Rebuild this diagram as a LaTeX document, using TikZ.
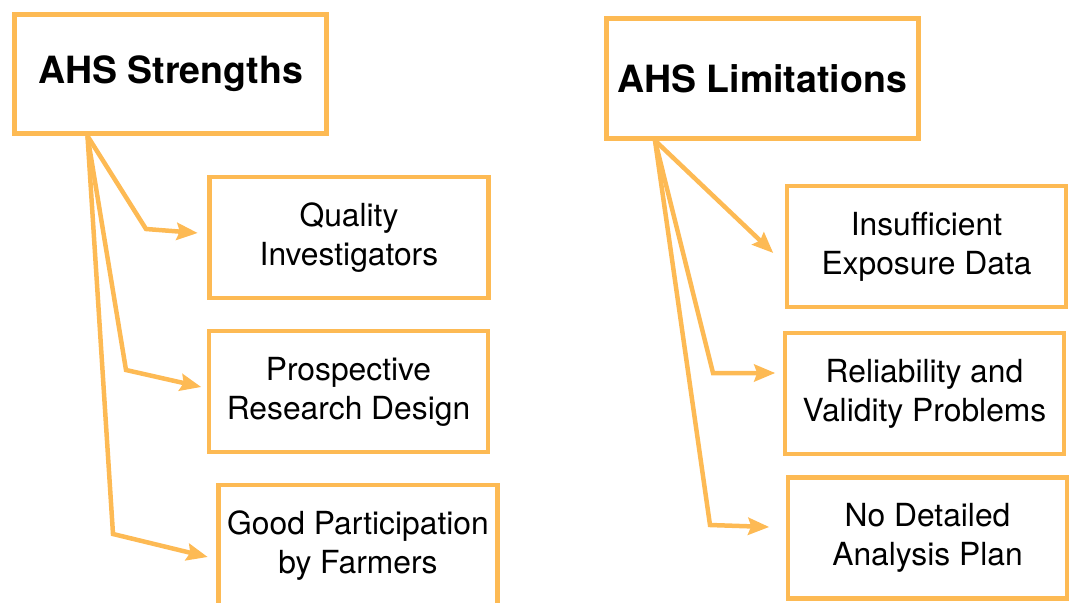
\documentclass[tikz,border=0pt]{standalone}
\usepackage{fontspec}
\setmainfont{TeX Gyre Heros}
\usetikzlibrary{positioning, arrows.meta}
\definecolor{ahsorange}{RGB}{253,186,84}
\tikzset{
>={Stealth[length=21pt, width=17pt, inset=3pt]}, % big arrow heads as on the slide
title/.style={draw=ahsorange, line width=5pt, fill=white, minimum width=312pt, minimum height=119pt, font=\fontsize{37.5}{44}\selectfont\bfseries}, % the two headings
item/.style={draw=ahsorange, line width=4.5pt, fill=white, minimum width=279pt, minimum height=121pt, align=center, font=\fontsize{31.8}{39}\selectfont}, % the points below
link/.style={->, draw=ahsorange, line width=4.5pt, line join=miter},
}

\begin{document}
\begin{tikzpicture}[x=1pt, y=-1pt]
        \clip (0,0) rectangle (1070,602);
        \useasboundingbox (0,0) rectangle (1070,602);

        % Strengths
        \node[title] (Strengths) at (170.5,74) {AHS Strengths};
        \node[item] (Quality) at (349,237.5) {Quality\\Investigators};
        \node[item] (Prospective) at (348.5,391.5) {Prospective\\Research Design};
        \node[item] (Participation) at (358,545.5) {Good Participation\\by Farmers};

        \coordinate (sroot) at ([xshift=75.5pt]Strengths.south west);
        \draw[link] (sroot) -- (146,229) -- ([xshift=-9.5pt, yshift=4.5pt]Quality.west);
        \draw[link] (sroot) -- (126,370) -- ([xshift=-5.5pt, yshift=4.5pt]Prospective.west);
        \draw[link] (sroot) -- (113,534) -- ([xshift=-8.5pt, yshift=-11.5pt]Participation.west);

        % Limitations
        \node[title] (Limitations) at (762,78.5) {AHS Limitations};
        \node[item] (Exposure) at (926.5,246.5) {Insufficient\\Exposure Data};
        \node[item] (Reliability) at (924.5,393.5) {Reliability and\\Validity Problems};
        \node[item] (Plan) at (927.5,538) {No Detailed\\Analysis Plan};

        \coordinate (lroot) at ([xshift=51.5pt]Limitations.south west);
        \draw[link] (lroot) -- ([xshift=-11.5pt, yshift=-6.5pt]Exposure.west);
        \draw[link] (lroot) -- (713,373) -- ([xshift=-7.5pt, yshift=20.5pt]Reliability.west);
        \draw[link] (lroot) -- (710,525) -- ([xshift=-16.5pt, yshift=11pt]Plan.west);
\end{tikzpicture}
\end{document}
